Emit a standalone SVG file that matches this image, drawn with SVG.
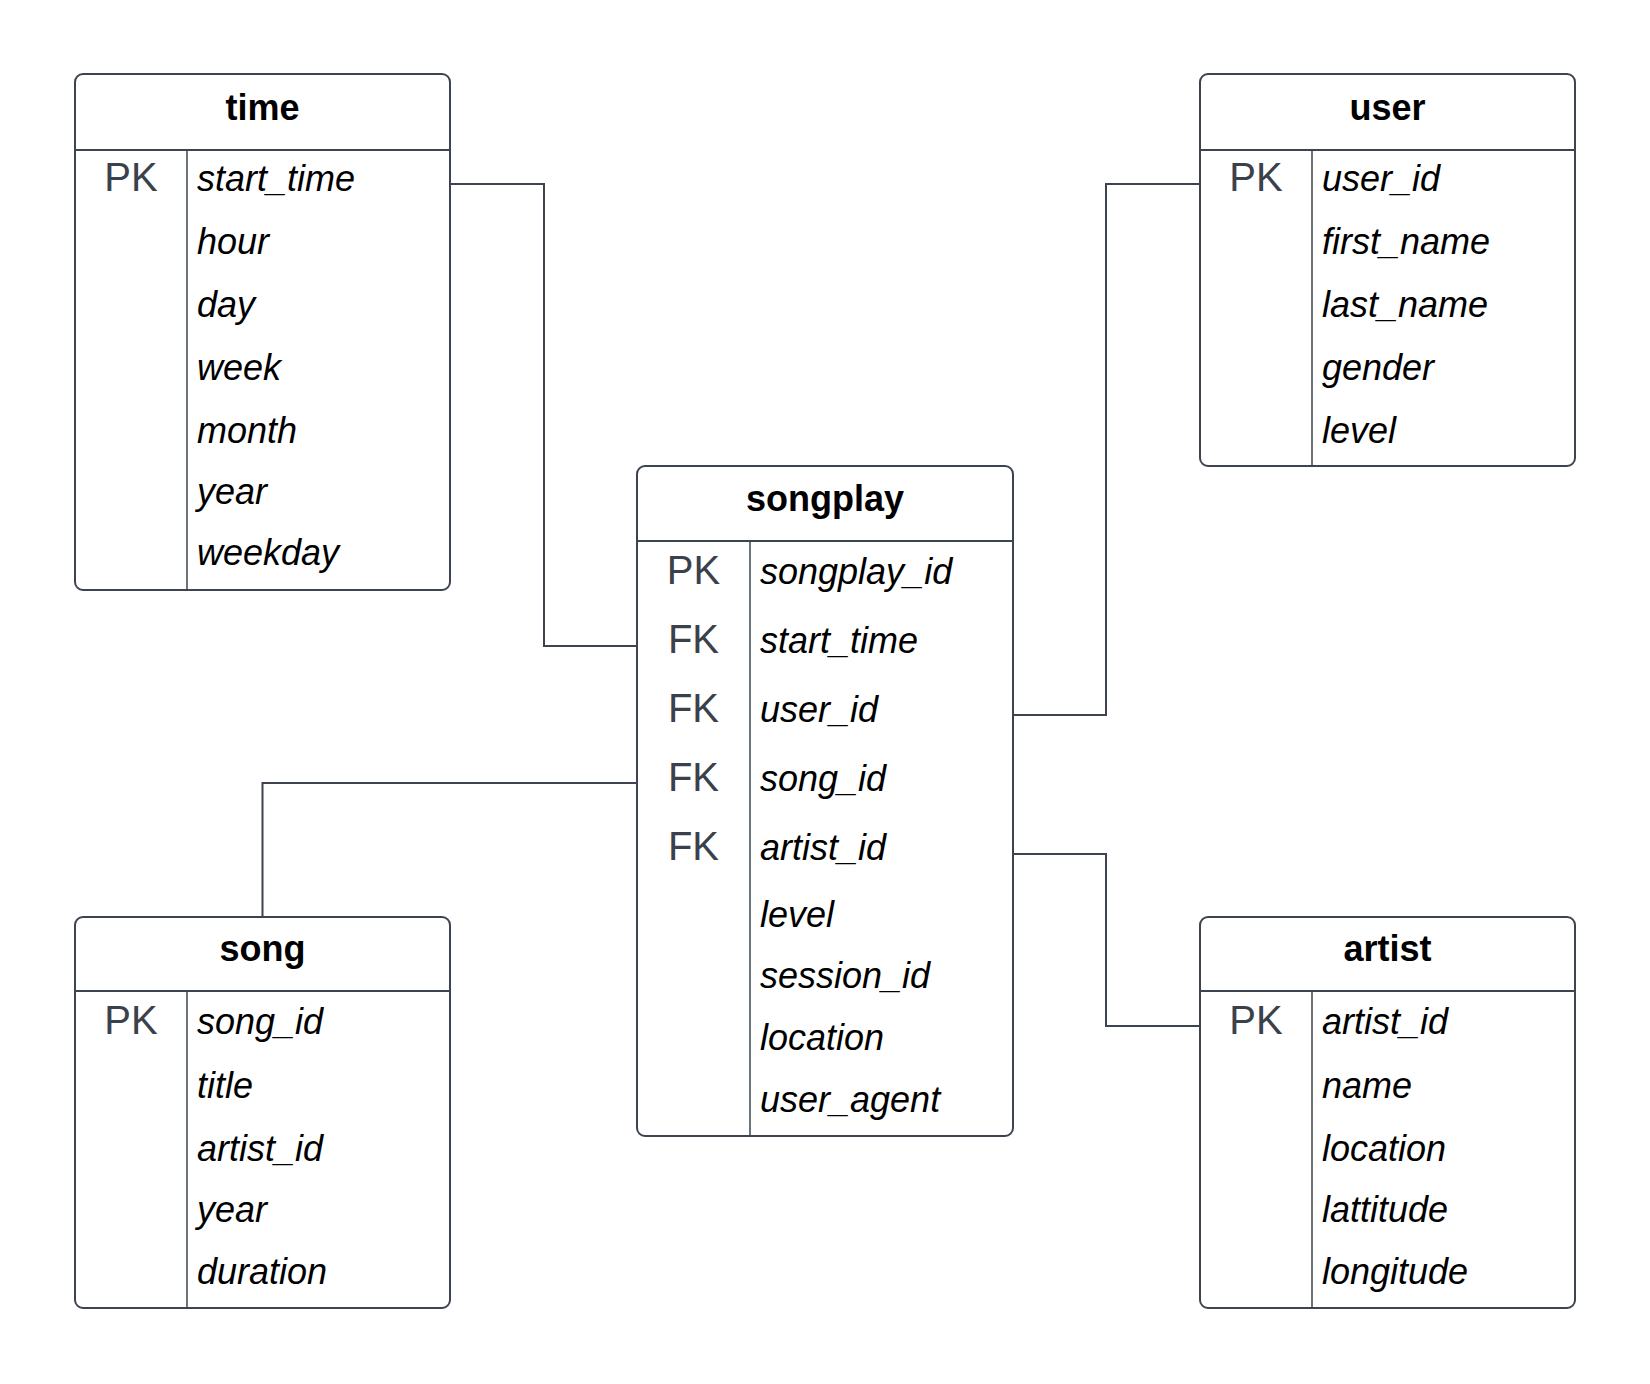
<svg xmlns="http://www.w3.org/2000/svg" width="1650" height="1384" viewBox="0 0 1650 1384">
<style>
.box{fill:#ffffff;stroke:#3d444f;stroke-width:2}
.sep{stroke:#3d444f;stroke-width:2}
.div{stroke:#3d444f;stroke-width:1.5}
.title{font-family:"Liberation Sans",Arial,sans-serif;font-size:36px;font-weight:bold;fill:#000000;text-anchor:middle}
.key{font-family:"Liberation Sans",Arial,sans-serif;font-size:40px;fill:#3a414b;text-anchor:middle}
.fld{font-family:"Liberation Sans",Arial,sans-serif;font-size:36px;font-style:italic;fill:#000000}
.conn{fill:none;stroke:#3d444f;stroke-width:2}
</style>
<rect width="1650" height="1384" fill="#ffffff"/>
<g id="connectors">
<path class="conn" d="M450 184 H544 V646 H637"/>
<path class="conn" d="M1013 715 H1106 V184 H1200"/>
<path class="conn" d="M262.5 917 V783 H637"/>
<path class="conn" d="M1013 854 H1106 V1026 H1200"/>
</g>
<g id="time">
<rect class="box" x="75" y="74" width="375" height="516" rx="8"/>
<line class="sep" x1="75" y1="150" x2="450" y2="150"/>
<line class="div" x1="187" y1="150" x2="187" y2="590"/>
<text class="title" x="262.5" y="120">time</text>
<text class="key" x="131" y="191">PK</text>
<text class="fld" x="197" y="191">start_time</text>
<text class="fld" x="197" y="254">hour</text>
<text class="fld" x="197" y="317">day</text>
<text class="fld" x="197" y="380">week</text>
<text class="fld" x="197" y="443">month</text>
<text class="fld" x="197" y="504">year</text>
<text class="fld" x="197" y="565">weekday</text>
</g>
<g id="user">
<rect class="box" x="1200" y="74" width="375" height="392" rx="8"/>
<line class="sep" x1="1200" y1="150" x2="1575" y2="150"/>
<line class="div" x1="1312" y1="150" x2="1312" y2="466"/>
<text class="title" x="1387.5" y="120">user</text>
<text class="key" x="1256" y="191">PK</text>
<text class="fld" x="1322" y="191">user_id</text>
<text class="fld" x="1322" y="254">first_name</text>
<text class="fld" x="1322" y="317">last_name</text>
<text class="fld" x="1322" y="380">gender</text>
<text class="fld" x="1322" y="443">level</text>
</g>
<g id="songplay">
<rect class="box" x="637" y="466" width="376" height="670" rx="8"/>
<line class="sep" x1="637" y1="541" x2="1013" y2="541"/>
<line class="div" x1="750" y1="541" x2="750" y2="1136"/>
<text class="title" x="825" y="511">songplay</text>
<text class="key" x="693.5" y="584">PK</text>
<text class="key" x="693.5" y="653">FK</text>
<text class="key" x="693.5" y="722">FK</text>
<text class="key" x="693.5" y="791">FK</text>
<text class="key" x="693.5" y="860">FK</text>
<text class="fld" x="760" y="584">songplay_id</text>
<text class="fld" x="760" y="653">start_time</text>
<text class="fld" x="760" y="722">user_id</text>
<text class="fld" x="760" y="791">song_id</text>
<text class="fld" x="760" y="860">artist_id</text>
<text class="fld" x="760" y="927">level</text>
<text class="fld" x="760" y="988">session_id</text>
<text class="fld" x="760" y="1050">location</text>
<text class="fld" x="760" y="1112">user_agent</text>
</g>
<g id="song">
<rect class="box" x="75" y="917" width="375" height="391" rx="8"/>
<line class="sep" x1="75" y1="991" x2="450" y2="991"/>
<line class="div" x1="187" y1="991" x2="187" y2="1308"/>
<text class="title" x="262.5" y="961">song</text>
<text class="key" x="131" y="1034">PK</text>
<text class="fld" x="197" y="1034">song_id</text>
<text class="fld" x="197" y="1098">title</text>
<text class="fld" x="197" y="1161">artist_id</text>
<text class="fld" x="197" y="1222">year</text>
<text class="fld" x="197" y="1284">duration</text>
</g>
<g id="artist">
<rect class="box" x="1200" y="917" width="375" height="391" rx="8"/>
<line class="sep" x1="1200" y1="991" x2="1575" y2="991"/>
<line class="div" x1="1312" y1="991" x2="1312" y2="1308"/>
<text class="title" x="1387.5" y="961">artist</text>
<text class="key" x="1256" y="1034">PK</text>
<text class="fld" x="1322" y="1034">artist_id</text>
<text class="fld" x="1322" y="1098">name</text>
<text class="fld" x="1322" y="1161">location</text>
<text class="fld" x="1322" y="1222">lattitude</text>
<text class="fld" x="1322" y="1284">longitude</text>
</g>
</svg>
